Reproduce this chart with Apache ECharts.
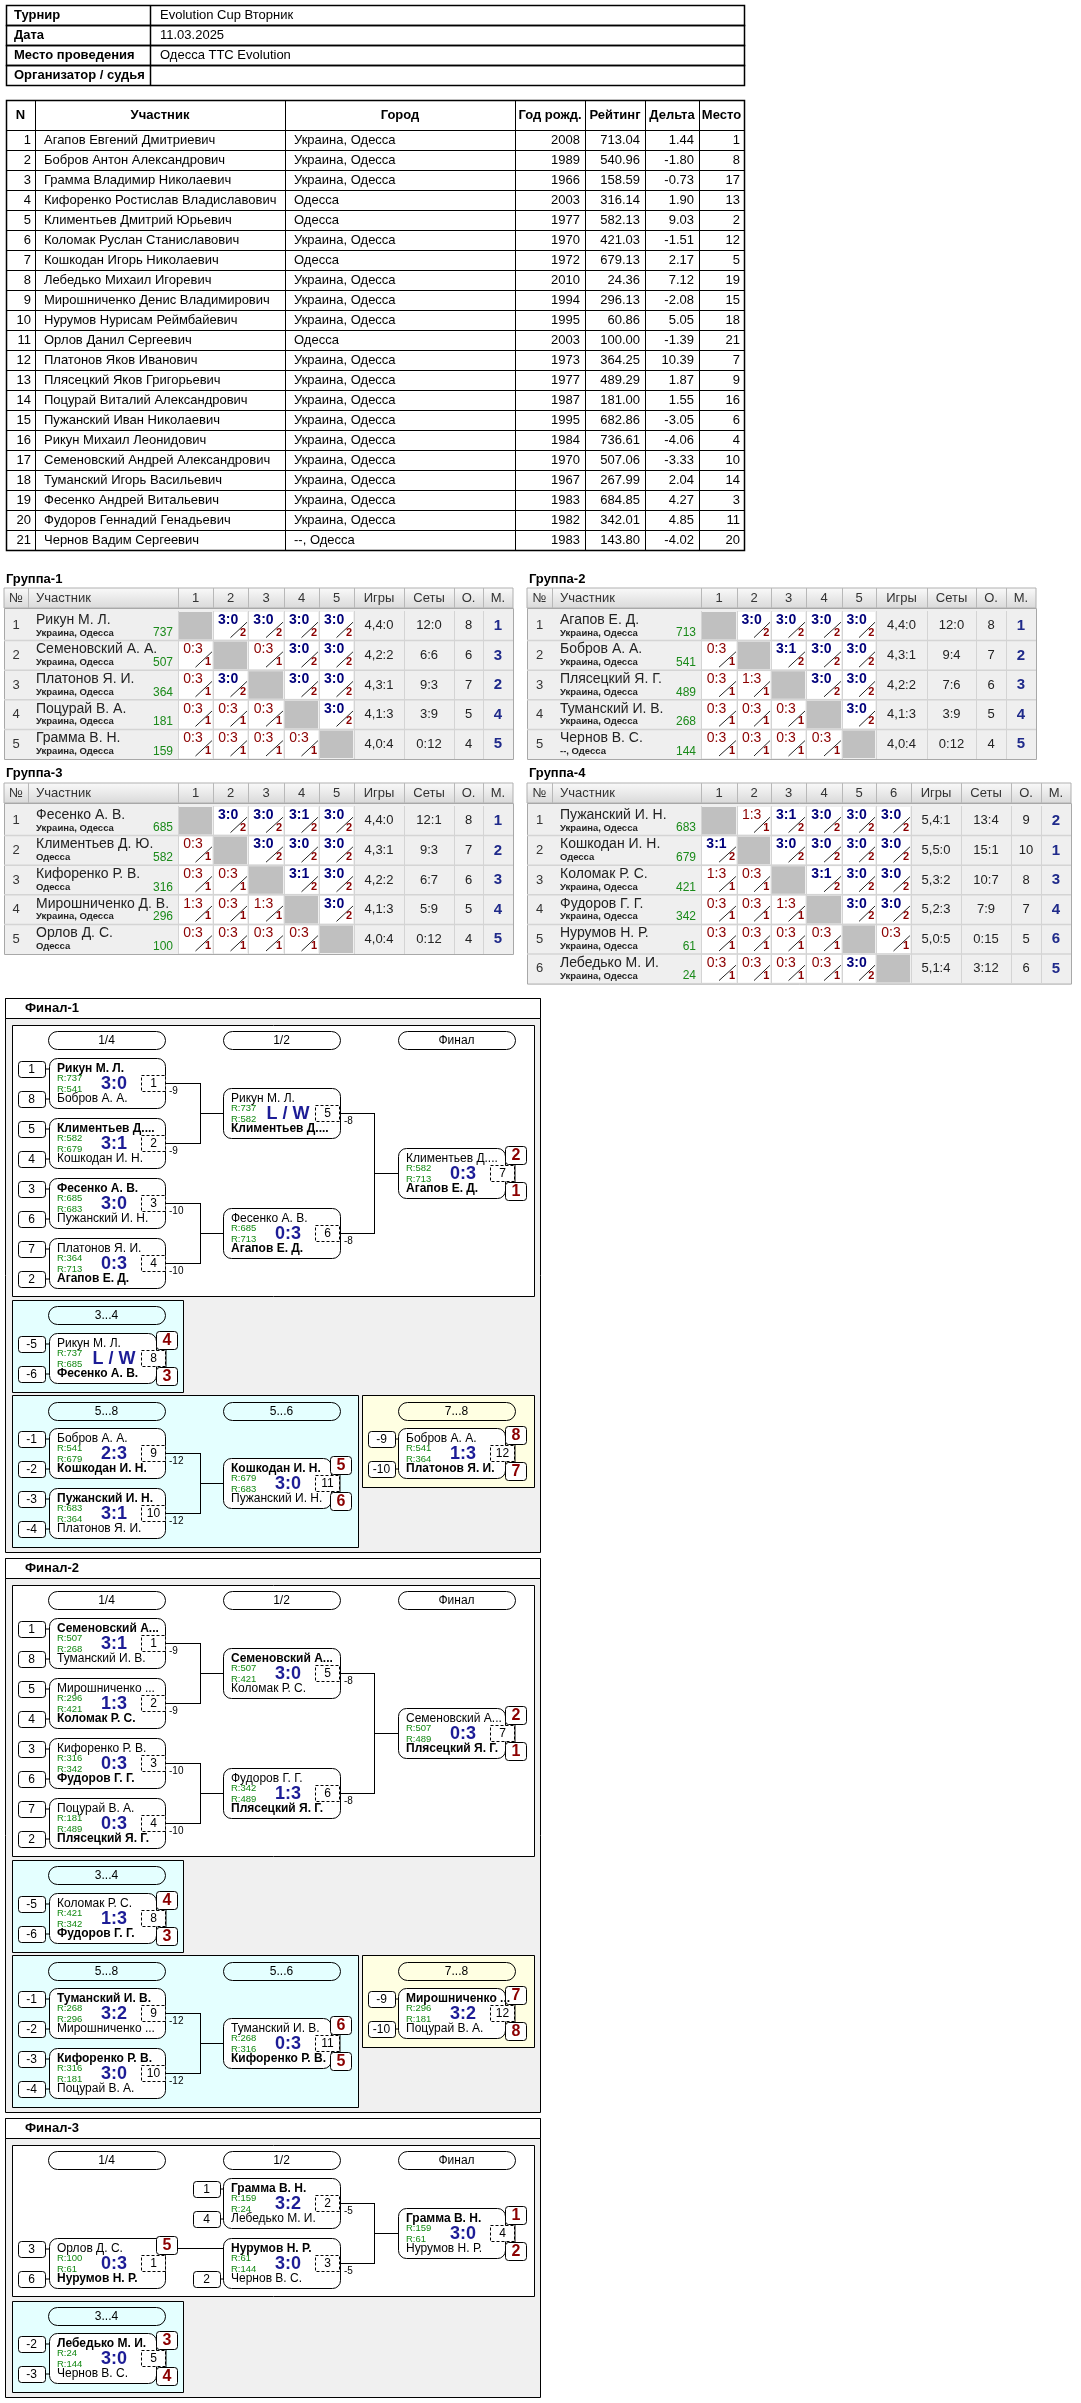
<!DOCTYPE html>
<html><head><meta charset="utf-8">
<script src="https://cdn.jsdelivr.net/npm/echarts@6/dist/echarts.min.js"></script>
<style>html,body{margin:0;padding:0;background:#fff}#c{width:1081px;height:2403px}</style>
</head><body><div id="c"></div>
<script>
// ---------- DATA ----------
const infoLabels = ['Турнир','Дата','Место проведения','Организатор / судья'];
const infoValues = ['Evolution Cup Вторник','11.03.2025','Одесса TTC Evolution',''];
const pHeaders = ['N','Участник','Город','Год рожд.','Рейтинг','Дельта','Место'];
const pNames = ['Агапов Евгений Дмитриевич','Бобров Антон Александрович','Грамма Владимир Николаевич','Кифоренко Ростислав Владиславович','Климентьев Дмитрий Юрьевич','Коломак Руслан Станиславович','Кошкодан Игорь Николаевич','Лебедько Михаил Игоревич','Мирошниченко Денис Владимирович','Нурумов Нурисам Реймбайевич','Орлов Данил Сергеевич','Платонов Яков Иванович','Плясецкий Яков Григорьевич','Поцурай Виталий Александрович','Пужанский Иван Николаевич','Рикун Михаил Леонидович','Семеновский Андрей Александрович','Туманский Игорь Васильевич','Фесенко Андрей Витальевич','Фудоров Геннадий Генадьевич','Чернов Вадим Сергеевич'];
const pCities = ['Украина, Одесса','Украина, Одесса','Украина, Одесса','Одесса','Одесса','Украина, Одесса','Одесса','Украина, Одесса','Украина, Одесса','Украина, Одесса','Одесса','Украина, Одесса','Украина, Одесса','Украина, Одесса','Украина, Одесса','Украина, Одесса','Украина, Одесса','Украина, Одесса','Украина, Одесса','Украина, Одесса','--, Одесса'];
const pYears = [2008,1989,1966,2003,1977,1970,1972,2010,1994,1995,2003,1973,1977,1987,1995,1984,1970,1967,1983,1982,1983];
const pRatings = ['713.04','540.96','158.59','316.14','582.13','421.03','679.13','24.36','296.13','60.86','100.00','364.25','489.29','181.00','682.86','736.61','507.06','267.99','684.85','342.01','143.80'];
const pDeltas = ['1.44','-1.80','-0.73','1.90','9.03','-1.51','2.17','7.12','-2.08','5.05','-1.39','10.39','1.87','1.55','-3.05','-4.06','-3.33','2.04','4.27','4.85','-4.02'];
const pPlaces = [1,8,17,13,2,12,5,19,15,18,21,7,9,16,6,4,10,14,3,11,20];

const groupTitles = ['Группа-1','Группа-2','Группа-3','Группа-4'];
const groupNames = [
 ['Рикун М. Л.','Семеновский А. А.','Платонов Я. И.','Поцурай В. А.','Грамма В. Н.'],
 ['Агапов Е. Д.','Бобров А. А.','Плясецкий Я. Г.','Туманский И. В.','Чернов В. С.'],
 ['Фесенко А. В.','Климентьев Д. Ю.','Кифоренко Р. В.','Мирошниченко Д. В.','Орлов Д. С.'],
 ['Пужанский И. Н.','Кошкодан И. Н.','Коломак Р. С.','Фудоров Г. Г.','Нурумов Н. Р.','Лебедько М. И.']];
const groupCities = [
 ['Украина, Одесса','Украина, Одесса','Украина, Одесса','Украина, Одесса','Украина, Одесса'],
 ['Украина, Одесса','Украина, Одесса','Украина, Одесса','Украина, Одесса','--, Одесса'],
 ['Украина, Одесса','Одесса','Одесса','Украина, Одесса','Одесса'],
 ['Украина, Одесса','Одесса','Украина, Одесса','Украина, Одесса','Украина, Одесса','Украина, Одесса']];
const groupRatings = [[737,507,364,181,159],[713,541,489,268,144],[685,582,316,296,100],[683,679,421,342,61,24]];
const groupResults = [
 [['','3:0','3:0','3:0','3:0'],['0:3','','0:3','3:0','3:0'],['0:3','3:0','','3:0','3:0'],['0:3','0:3','0:3','','3:0'],['0:3','0:3','0:3','0:3','']],
 [['','3:0','3:0','3:0','3:0'],['0:3','','3:1','3:0','3:0'],['0:3','1:3','','3:0','3:0'],['0:3','0:3','0:3','','3:0'],['0:3','0:3','0:3','0:3','']],
 [['','3:0','3:0','3:1','3:0'],['0:3','','3:0','3:0','3:0'],['0:3','0:3','','3:1','3:0'],['1:3','0:3','1:3','','3:0'],['0:3','0:3','0:3','0:3','']],
 [['','1:3','3:1','3:0','3:0','3:0'],['3:1','','3:0','3:0','3:0','3:0'],['1:3','0:3','','3:1','3:0','3:0'],['0:3','0:3','1:3','','3:0','3:0'],['0:3','0:3','0:3','0:3','','0:3'],['0:3','0:3','0:3','0:3','3:0','']]];
const groupGames = [['4,4:0','4,2:2','4,3:1','4,1:3','4,0:4'],['4,4:0','4,3:1','4,2:2','4,1:3','4,0:4'],['4,4:0','4,3:1','4,2:2','4,1:3','4,0:4'],['5,4:1','5,5:0','5,3:2','5,2:3','5,0:5','5,1:4']];
const groupSets = [['12:0','6:6','9:3','3:9','0:12'],['12:0','9:4','7:6','3:9','0:12'],['12:1','9:3','6:7','5:9','0:12'],['13:4','15:1','10:7','7:9','0:15','3:12']];
const groupPoints = [[8,6,7,5,4],[8,7,6,5,4],[8,7,6,5,4],[9,10,8,7,5,6]];
const groupPlaces = [[1,3,2,4,5],[1,2,3,4,5],[1,2,3,4,5],[2,1,3,4,6,5]];

// matches: [top, topRating, bottom, bottomRating, score, number, winner]
const final1Matches = [
 ['Рикун М. Л.',737,'Бобров А. А.',541,'3:0',1,'t'],
 ['Климентьев Д....',582,'Кошкодан И. Н.',679,'3:1',2,'t'],
 ['Фесенко А. В.',685,'Пужанский И. Н.',683,'3:0',3,'t'],
 ['Платонов Я. И.',364,'Агапов Е. Д.',713,'0:3',4,'b'],
 ['Рикун М. Л.',737,'Климентьев Д....',582,'L / W',5,'b'],
 ['Фесенко А. В.',685,'Агапов Е. Д.',713,'0:3',6,'b'],
 ['Климентьев Д....',582,'Агапов Е. Д.',713,'0:3',7,'b'],
 ['Рикун М. Л.',737,'Фесенко А. В.',685,'L / W',8,'b'],
 ['Бобров А. А.',541,'Кошкодан И. Н.',679,'2:3',9,'b'],
 ['Пужанский И. Н.',683,'Платонов Я. И.',364,'3:1',10,'t'],
 ['Кошкодан И. Н.',679,'Пужанский И. Н.',683,'3:0',11,'t'],
 ['Бобров А. А.',541,'Платонов Я. И.',364,'1:3',12,'b']];
const final1Places = [[2,1],[4,3],[5,6],[8,7]];
const final2Matches = [
 ['Семеновский А...',507,'Туманский И. В.',268,'3:1',1,'t'],
 ['Мирошниченко ...',296,'Коломак Р. С.',421,'1:3',2,'b'],
 ['Кифоренко Р. В.',316,'Фудоров Г. Г.',342,'0:3',3,'b'],
 ['Поцурай В. А.',181,'Плясецкий Я. Г.',489,'0:3',4,'b'],
 ['Семеновский А...',507,'Коломак Р. С.',421,'3:0',5,'t'],
 ['Фудоров Г. Г.',342,'Плясецкий Я. Г.',489,'1:3',6,'b'],
 ['Семеновский А...',507,'Плясецкий Я. Г.',489,'0:3',7,'b'],
 ['Коломак Р. С.',421,'Фудоров Г. Г.',342,'1:3',8,'b'],
 ['Туманский И. В.',268,'Мирошниченко ...',296,'3:2',9,'t'],
 ['Кифоренко Р. В.',316,'Поцурай В. А.',181,'3:0',10,'t'],
 ['Туманский И. В.',268,'Кифоренко Р. В.',316,'0:3',11,'b'],
 ['Мирошниченко ...',296,'Поцурай В. А.',181,'3:2',12,'t']];
const final2Places = [[2,1],[4,3],[6,5],[7,8]];
const final3Matches = [
 ['Орлов Д. С.',100,'Нурумов Н. Р.',61,'0:3',1,'b'],
 ['Грамма В. Н.',159,'Лебедько М. И.',24,'3:2',2,'t'],
 ['Нурумов Н. Р.',61,'Чернов В. С.',144,'3:0',3,'t'],
 ['Грамма В. Н.',159,'Нурумов Н. Р.',61,'3:0',4,'t'],
 ['Лебедько М. И.',24,'Чернов В. С.',144,'3:0',5,'t']];
const final3Places = [[1,2],[3,4],[5]];
const seeds8 = [[1,8],[5,4],[3,6],[7,2]];
const seedsLosers = [['-5','-6'],['-1','-2'],['-3','-4'],['-9','-10']];
const roundTitles = ['1/4','1/2','Финал'];

// ---------- DRAWING ----------
const els = [];
const SANS = "'Liberation Sans', Arial, sans-serif";
const NARROW = "'Liberation Sans Narrow', 'Liberation Sans', Arial, sans-serif";
function R(x,y,w,h,o){o=o||{};els.push({type:'rect',z:o.z||1,shape:{x:x,y:y,width:w,height:h,r:o.r||0},style:{fill:o.fill===undefined?'none':o.fill,stroke:o.stroke===undefined?'#000':o.stroke,lineWidth:o.lw||1,lineDash:o.dash||null}});}
function L(x1,y1,x2,y2,o){o=o||{};els.push({type:'line',z:o.z||2,shape:{x1:x1,y1:y1,x2:x2,y2:y2},style:{stroke:o.c||'#000',lineWidth:o.lw||1,lineDash:o.dash||null}});}
function T(x,y,s,o){o=o||{};els.push({type:'text',z:5,x:x,y:y,style:{text:String(s),fill:o.c||'#000',font:o.f||('12px '+SANS),textAlign:o.a||'left',textVerticalAlign:'middle',align:o.a||'left',verticalAlign:'middle'}});}

// Info table
const iy0=5, irh=20;
for(let i=0;i<4;i++){
  R(6.5,iy0+i*irh+0.5,738,irh,{lw:1.5});
  L(150.5,iy0+i*irh,150.5,iy0+(i+1)*irh,{lw:1.5});
  T(14,iy0+i*irh+10,infoLabels[i],{f:'bold 13px '+NARROW});
  T(160,iy0+i*irh+10,infoValues[i],{f:'13px '+NARROW});
}
// Participants table
const pc=[6,35,285,515,585,645,699,744];
const py0=100, phh=30, prh=20;
R(6.5,py0+0.5,738,phh+21*prh,{lw:1.5});
for(let c=1;c<pc.length-1;c++) L(pc[c]+0.5,py0,pc[c]+0.5,py0+phh+21*prh,{lw:1});
L(6,py0+phh+0.5,744,py0+phh+0.5,{lw:1});
pHeaders.forEach((h,c)=>T((pc[c]+pc[c+1])/2,py0+phh/2,h,{a:'center',f:'bold 13px '+NARROW}));
for(let i=0;i<21;i++){
  const y=py0+phh+i*prh, ym=y+prh/2;
  if(i>0) L(6,y+0.5,744,y+0.5);
  T(pc[1]-4,ym,i+1,{a:'right',f:'13px '+NARROW});
  T(pc[1]+9,ym,pNames[i],{f:'13px '+NARROW});
  T(pc[2]+9,ym,pCities[i],{f:'13px '+NARROW});
  T(pc[4]-5,ym,pYears[i],{a:'right',f:'13px '+NARROW});
  T(pc[5]-5,ym,pRatings[i],{a:'right',f:'13px '+NARROW});
  T(pc[6]-5,ym,pDeltas[i],{a:'right',f:'13px '+NARROW});
  T(pc[7]-4,ym,pPlaces[i],{a:'right',f:'13px '+NARROW});
}

// Group tables
function groupTable(g, cols, tx, ty, hy){
  const n=groupNames[g].length, rh=29.6, by=hy+23;
  T(tx,ty,groupTitles[g],{f:'bold 13px '+SANS});
  const x0=cols[0], x1=cols[cols.length-1];
  els.push({type:'rect',z:1,shape:{x:x0,y:hy,width:x1-x0,height:20},style:{fill:{type:'linear',x:0,y:0,x2:0,y2:1,colorStops:[{offset:0,color:'#fafafa'},{offset:1,color:'#d9d9d9'}]},stroke:'#b0b0b0',lineWidth:1}});
  for(let c=1;c<cols.length-1;c++) L(cols[c]+0.5,hy,cols[c]+0.5,hy+20,{c:'#b8b8b8'});
  const heads=['№','Участник'];for(let k=1;k<=n;k++)heads.push(String(k));heads.push('Игры','Сеты','О.','М.');
  heads.forEach((h,c)=>{ if(c===1) T(cols[1]+8,hy+10,h,{f:'13px '+SANS,c:'#333'}); else T((cols[c]+cols[c+1])/2,hy+10,h,{a:'center',f:'13px '+SANS,c:'#333'}); });
  R(x0+0.5,by-2.5,x1-x0,n*rh+3,{fill:'#efefef',stroke:'#a8a8a8'});
  for(let i=0;i<n;i++){
    const y=by+i*rh;
    if(i>0) L(x0,y,x1,y,{c:'#d4d4d4',lw:1.5});
    T((cols[0]+cols[1])/2,y+rh/2,i+1,{a:'center',f:'13px '+SANS,c:'#333'});
    T(cols[1]+8,y+9,groupNames[g][i],{f:'14px '+SANS,c:'#222'});
    T(cols[1]+8,y+22,groupCities[g][i],{f:'bold 9.5px '+SANS,c:'#222'});
    T(cols[2]-5,y+22,groupRatings[g][i],{a:'right',f:'12px '+SANS,c:'#1a8a1a'});
    for(let k=0;k<n;k++){
      const cx=cols[2+k], cw=cols[3+k]-cx;
      const r=groupResults[g][i][k];
      if(r===''){ R(cx+1,y+1,cw-2,rh-2,{fill:'#c0c0c0',stroke:null}); continue; }
      R(cx+1,y+1,cw-2,rh-2,{fill:'#fff',stroke:null});
      const win = parseInt(r[0])>parseInt(r[2]);
      T(cx+cw*0.43,y+9,r,{a:'center',f:(win?'bold ':'')+'14px '+SANS,c:win?'#00007a':'#8b0000'});
      L(cx+cw*0.5,y+rh-3,cx+cw*0.97,y+rh*0.38,{c:'#222'});
      T(cx+cw*0.86,y+rh-8,win?2:1,{a:'center',f:'bold 11px '+SANS,c:'#8b0000'});
    }
    const ci=2+n;
    T((cols[ci]+cols[ci+1])/2,y+rh/2,groupGames[g][i],{a:'center',f:'13px '+SANS,c:'#222'});
    T((cols[ci+1]+cols[ci+2])/2,y+rh/2,groupSets[g][i],{a:'center',f:'13px '+SANS,c:'#222'});
    T((cols[ci+2]+cols[ci+3])/2,y+rh/2,groupPoints[g][i],{a:'center',f:'13px '+SANS,c:'#222'});
    T((cols[ci+3]+cols[ci+4])/2,y+rh/2,groupPlaces[g][i],{a:'center',f:'bold 15px '+SANS,c:'#1f2a8a'});
    for(let c=2;c<cols.length-1;c++) L(cols[c]+0.5,y,cols[c]+0.5,y+rh,{c:'#d4d4d4'});
  }
}
const gcolsL=[4,28,178,213,248,284,319,354,404,454,483,513];
const gcolsR2=[527,552,701,737,771,806,842,876,927,976,1006,1036];
const gcolsR4=[527,552,701,737,771,806,842,876,911,961,1011,1041,1071];
groupTable(0,gcolsL,6,579,588);
groupTable(1,gcolsR2,529,579,588);
groupTable(2,gcolsL,6,773,783);
groupTable(3,gcolsR4,529,773,783);

// Bracket helpers
function pill(x1,x2,y,label){R(x1+0.5,y+0.5,x2-x1,18,{r:9,fill:'none'});T((x1+x2)/2,y+9.5,label,{a:'center',f:'12px '+SANS});}
function seed(x,yc,label){R(x+0.5,yc-7.5,27,16,{r:3,fill:'#fff'});L(x+27,yc,x+32,yc);T(x+13.5,yc+0.5,label,{a:'center',f:'12px '+SANS});}
function place(x,y,label){R(x+0.5,y+0.5,21,18,{r:3,fill:'#fff',z:3});els.push({type:'text',z:6,x:x+11,y:y+10,style:{text:String(label),fill:'#8b0000',font:'bold 16px '+SANS,textAlign:'center',textVerticalAlign:'middle',align:'center',verticalAlign:'middle'}});}
function match(x,y,w,m){
  R(x+0.5,y+0.5,w,50,{r:8,fill:'#fff',z:2});
  T(x+8,y+11,m[0],{f:(m[6]==='t'?'bold ':'')+'12px '+SANS});
  T(x+8,y+20.5,'R:'+m[1],{f:'9.5px '+SANS,c:'#128812'});
  T(x+8,y+31.5,'R:'+m[3],{f:'9.5px '+SANS,c:'#128812'});
  T(x+8,y+41,m[2],{f:(m[6]==='b'?'bold ':'')+'12px '+SANS});
  T(x+65,y+26,m[4],{a:'center',f:'bold 18px '+SANS,c:'#1c1c96'});
  R(x+92.5,y+17.5,24,16,{fill:'#fff',dash:[3,2],z:3});
  T(x+104.5,y+26,m[5],{a:'center',f:'12px '+SANS});
}
function places2(x,y,p){ L(x+117,y+16,x+117,y+34,{z:4}); place(x+107,y-2,p[0]); if(p.length>1) place(x+107,y+34,p[1]); }
function conn(xa,ya,xb,yb,xv,xt,yt,label){
  L(xa,ya+0.5,xv+0.5,ya+0.5);L(xa,yb+0.5,xv+0.5,yb+0.5);L(xv+0.5,ya,xv+0.5,yb+1);
  L(xv,(ya+yb)/2+0.5,xt,(ya+yb)/2+0.5);
  if(label){T(xa+4,ya+8,label,{f:'10px '+SANS});T(xa+4,yb+8,label,{f:'10px '+SANS});}
}
function finalFrame(B,h,title){
  R(5.5,B+0.5,535,h,{fill:'#f0f0f0'});
  R(5.5,B+0.5,535,20,{fill:'#fff'});
  T(25,B+10.5,title,{f:'bold 13px '+SANS});
}
function fullFinal(B,title,M,P,lbl34){
  finalFrame(B,554,title);
  R(12.5,B+27.5,522,271,{fill:'#fff'});
  pill(48,165,B+33,roundTitles[0]);pill(223,340,B+33,roundTitles[1]);pill(398,515,B+33,roundTitles[2]);
  for(let i=0;i<4;i++){const y=B+60+i*60;seed(18,y+11,seeds8[i][0]);seed(18,y+41,seeds8[i][1]);match(49,y,116,M[i]);}
  conn(165,B+85,165,B+145,200,223,null,'-9');
  conn(165,B+205,165,B+265,200,223,null,'-10');
  match(223,B+90,117,M[4]);match(223,B+210,117,M[5]);
  conn(340,B+115,340,B+235,374,398,null,'-8');
  match(398,B+150,107,M[6]);places2(398,B+150,P[0]);
  // 3..4
  R(12.5,B+302.5,171,92,{fill:'#e4ffff'});
  pill(48,165,B+308,'3...4');
  seed(18,B+346,lbl34[0][0]);seed(18,B+376,lbl34[0][1]);
  match(49,B+335,107,M[7]);places2(49,B+335,P[1]);
  // 5..8
  R(12.5,B+397.5,346,152,{fill:'#e4ffff'});
  pill(48,165,B+404,'5...8');pill(223,340,B+404,'5...6');
  seed(18,B+441,lbl34[1][0]);seed(18,B+471,lbl34[1][1]);
  seed(18,B+501,lbl34[2][0]);seed(18,B+531,lbl34[2][1]);
  match(49,B+430,116,M[8]);match(49,B+490,116,M[9]);
  conn(165,B+455,165,B+515,200,223,null,'-12');
  match(223,B+460,108,M[10]);places2(223,B+460,P[2]);
  // 7..8
  R(362.5,B+397.5,172,92,{fill:'#ffffe2'});
  pill(398,515,B+404,'7...8');
  seed(368,B+441,lbl34[3][0]);seed(368,B+471,lbl34[3][1]);
  match(398,B+430,107,M[11]);places2(398,B+430,P[3]);
}
fullFinal(998,'Финал-1',final1Matches,final1Places,seedsLosers);
fullFinal(1558,'Финал-2',final2Matches,final2Places,seedsLosers);

// Final-3
(function(){
  const B=2118, M=final3Matches, P=final3Places;
  finalFrame(B,279,'Финал-3');
  R(12.5,B+27.5,522,151,{fill:'#fff'});
  pill(48,165,B+33,roundTitles[0]);pill(223,340,B+33,roundTitles[1]);pill(398,515,B+33,roundTitles[2]);
  seed(18,B+131,3);seed(18,B+161,6);
  match(49,B+120,116,M[0]);
  L(177,B+130.5,223,B+130.5);
  place(156,B+118,P[2][0]);
  seed(193,B+71,1);seed(193,B+101,4);seed(193,B+161,2);
  match(223,B+60,117,M[1]);match(223,B+120,117,M[2]);
  conn(340,B+85,340,B+145,374,398,null,'-5');
  match(398,B+90,107,M[3]);places2(398,B+90,P[0]);
  R(12.5,B+183.5,171,91,{fill:'#e4ffff'});
  pill(48,165,B+189,'3...4');
  seed(18,B+226,'-2');seed(18,B+256,'-3');
  match(49,B+215,107,M[4]);places2(49,B+215,P[1]);
})();

const chart = echarts.init(document.getElementById('c'),null,{renderer:'canvas',width:1081,height:2403});
chart.setOption({animation:false,backgroundColor:'#fff',graphic:{elements:els}});
</script></body></html>
